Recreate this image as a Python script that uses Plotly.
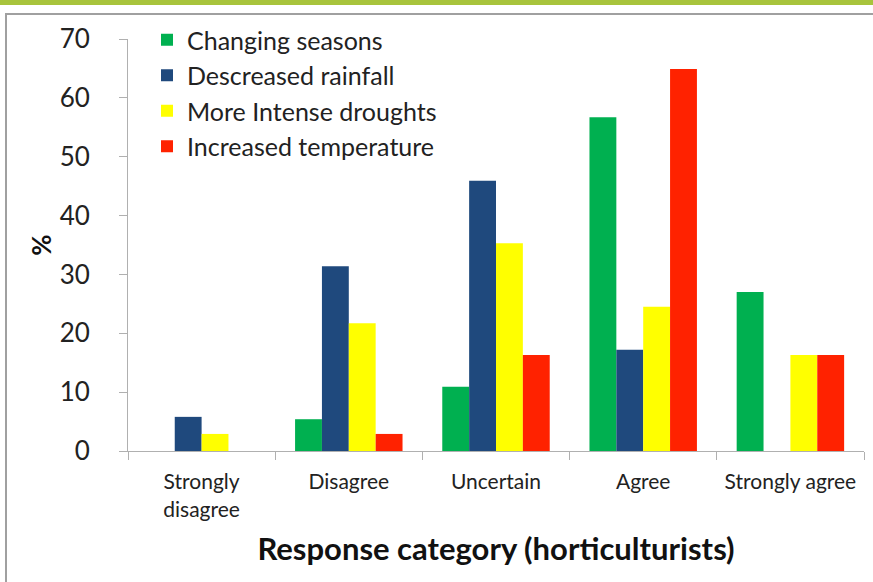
import plotly.graph_objects as go

categories = ["Strongly<br>disagree", "Disagree", "Uncertain", "Agree", "Strongly agree"]
changing_seasons = [0, 5.4, 10.9, 56.7, 27.0]
decreased_rainfall = [5.8, 31.4, 45.9, 17.2, 0]
intense_droughts = [2.9, 21.7, 35.3, 24.5, 16.3]
increased_temperature = [0, 2.9, 16.3, 64.9, 16.3]

series = [
    ("Changing seasons", changing_seasons, "#00b050"),
    ("Descreased rainfall", decreased_rainfall, "#1f497d"),
    ("More Intense droughts", intense_droughts, "#ffff00"),
    ("Increased temperature", increased_temperature, "#ff2200"),
]

W, H = 873, 582
fig = go.Figure()
for name, vals, col in series:
    fig.add_trace(go.Bar(name=name, x=categories, y=vals, marker=dict(color=col, line=dict(width=0))))

font_family = "Lato, Open Sans, sans-serif"
fig.update_layout(
    width=W, height=H,
    margin=dict(l=0, r=0, t=0, b=0, autoexpand=False),
    paper_bgcolor="white", plot_bgcolor="white",
    barmode="group", bargap=0.27, bargroupgap=0,
    font=dict(family=font_family, color="#222222"),
    showlegend=True,
    legend=dict(x=147 / W, y=1 - 17 / H, xanchor="left", yanchor="top",
                font=dict(size=25, color="#222222"), bgcolor="rgba(0,0,0,0)",
                tracegroupgap=0, itemwidth=30),
    xaxis=dict(domain=[128 / W, 864 / W], automargin=False, showline=True, linecolor="#b0b0b0", linewidth=1,
               ticks="outside", ticklen=8, tickcolor="#b0b0b0", tickson="boundaries",
               tickfont=dict(size=21, color="#222222"), showgrid=False, ticklabelstandoff=12,
               title=dict(text="<b>Response category (horticulturists)</b>", font=dict(size=31, color="#111111"), standoff=18)),
    yaxis=dict(domain=[1 - 451 / H, 1 - 39 / H], automargin=False, range=[0, 70], dtick=10, showline=True,
               linecolor="#b0b0b0", linewidth=1, ticks="outside", ticklen=8, tickcolor="#b0b0b0",
               tickfont=dict(size=26, color="#222222"), showgrid=False, ticklabelstandoff=24,
               zeroline=False,
               title=dict(text="<b>%</b>", font=dict(size=26, color="#111111"), standoff=0)),
    shapes=[
        dict(type="rect", xref="paper", yref="paper", x0=0, x1=1, y0=1 - 5 / H, y1=1,
             fillcolor="#a8c43c", line=dict(width=0), layer="above"),
        dict(type="line", xref="paper", yref="paper", x0=5 / W, x1=1, y0=1 - 14 / H, y1=1 - 14 / H,
             line=dict(color="#a0a0a0", width=2)),
        dict(type="line", xref="paper", yref="paper", x0=6 / W, x1=6 / W, y0=0, y1=1 - 14 / H,
             line=dict(color="#a0a0a0", width=2)),
    ],
)
fig.write_html("out.html")
